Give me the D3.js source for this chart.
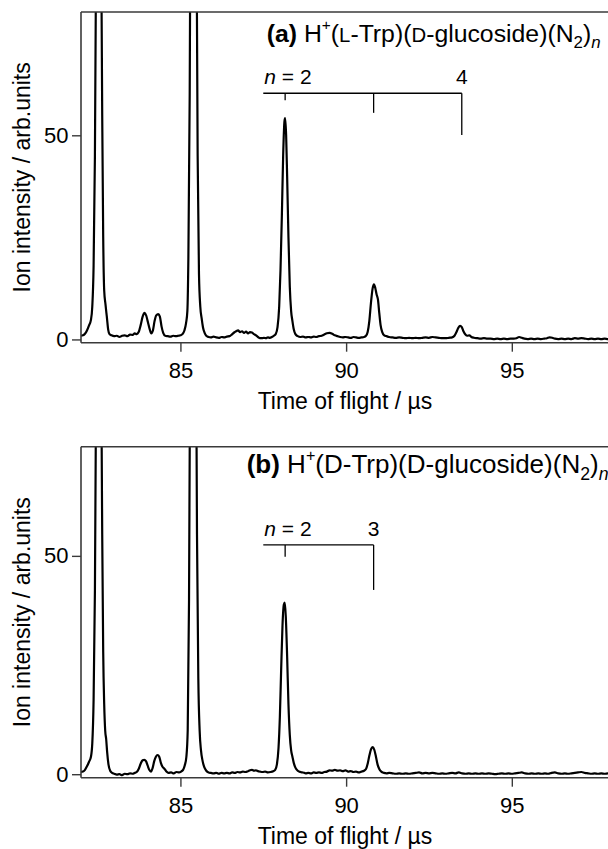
<!DOCTYPE html>
<html>
<head>
<meta charset="utf-8">
<script src="https://cdn.jsdelivr.net/npm/d3@7"></script>
<style>
  html, body { margin: 0; padding: 0; background: #fff; }
  svg { display: block; font-family: "Liberation Sans", Arial, Helvetica, sans-serif; }
</style>
</head>
<body>
<svg id="chart" width="608" height="849"></svg>
<script>
// Time-of-flight mass spectra, two panels.
const xTicks = [85, 90, 95];
const yTicks = [0, 50];

// Panel (a): [time of flight (µs), ion intensity (arb. units)]
const traceA = [
  [82.00,0.9],[82.06,1.0],[82.12,1.4],[82.18,2.2],[82.24,3.4],[82.30,4.8],[82.34,8],[82.38,18],
  [82.42,45],[82.46,100],[82.50,170],[82.53,200],[82.56,175],[82.60,110],[82.64,55],[82.67,25],
  [82.70,12],[82.74,8.5],[82.78,5.5],[82.82,2.4],[82.86,1.3],[82.92,1.0],[83.00,0.8],[83.08,0.9],
  [83.16,0.6],[83.24,0.9],[83.32,1.0],[83.40,0.8],[83.48,1.2],[83.56,1.1],[83.62,1.5],[83.68,1.3],
  [83.74,1.8],[83.80,3.5],[83.86,5.6],[83.92,6.5],[83.97,5.8],[84.02,4.2],[84.07,2.6],[84.12,1.5],
  [84.17,2.2],[84.22,4.5],[84.27,5.9],[84.33,6.2],[84.38,5.6],[84.43,3.2],[84.48,1.6],[84.54,0.9],
  [84.62,0.8],[84.70,0.7],[84.78,0.9],[84.86,0.8],[84.94,0.9],[85.00,1.0],[85.06,1.3],[85.12,2.2],
  [85.17,4.0],[85.21,7],[85.24,20],[85.28,60],[85.32,140],[85.36,200],[85.40,215],[85.44,190],
  [85.48,110],[85.52,45],[85.56,16],[85.60,8],[85.64,5.2],[85.68,3.0],[85.73,1.6],[85.78,0.9],
  [85.85,0.6],[85.92,0.5],[86.00,0.7],[86.08,0.5],[86.16,0.4],[86.24,0.6],[86.32,0.5],[86.40,0.7],
  [86.48,0.8],[86.55,1.2],[86.62,1.7],[86.68,2.0],[86.74,2.2],[86.80,1.8],[86.86,2.0],[86.92,1.6],
  [86.98,1.9],[87.04,1.5],[87.10,1.8],[87.16,1.7],[87.22,1.3],[87.28,1.0],[87.34,0.6],[87.40,0.3],
  [87.46,0.3],[87.52,0.4],[87.58,0.3],[87.64,0.5],[87.70,0.4],[87.76,0.6],[87.82,0.9],[87.88,1.4],
  [87.93,3],[87.98,8],[88.02,17],[88.06,30],[88.10,45],[88.14,53.5],[88.16,54.2],[88.19,50],
  [88.22,40],[88.26,25],[88.30,13],[88.34,7],[88.38,4.5],[88.42,2.5],[88.47,1.3],[88.54,0.8],
  [88.62,0.6],[88.70,0.7],[88.78,0.5],[88.86,0.6],[88.94,0.5],[89.02,0.7],[89.10,0.6],[89.18,0.8],
  [89.26,0.9],[89.34,1.2],[89.42,1.5],[89.50,1.6],[89.58,1.4],[89.66,1.0],[89.74,0.8],[89.82,0.6],
  [89.90,0.5],[89.98,0.6],[90.06,0.5],[90.14,0.4],[90.22,0.6],[90.30,0.5],[90.38,0.4],[90.46,0.5],
  [90.54,0.6],[90.60,0.9],[90.65,1.8],[90.70,4.5],[90.75,9],[90.80,12.5],[90.84,13.5],[90.88,12.6],
  [90.92,11],[90.96,9.8],[91.00,6.5],[91.04,3.5],[91.09,1.8],[91.15,1.0],[91.22,0.8],[91.30,0.6],
  [91.40,0.5],[91.50,0.4],[91.60,0.5],[91.70,0.4],[91.80,0.3],[91.90,0.4],[92.00,0.3],[92.10,0.4],
  [92.20,0.3],[92.30,0.4],[92.40,0.5],[92.50,0.4],[92.60,0.6],[92.70,0.5],[92.80,0.4],[92.90,0.3],
  [93.00,0.3],[93.10,0.4],[93.20,0.5],[93.27,0.9],[93.33,1.8],[93.39,2.9],[93.44,3.3],[93.49,3.0],
  [93.54,2.0],[93.60,1.2],[93.66,0.9],[93.72,1.0],[93.78,0.6],[93.86,0.4],[93.96,0.3],[94.06,0.2],
  [94.16,0.3],[94.26,0.2],[94.36,0.2],[94.46,0.1],[94.56,0.2],[94.66,0.1],[94.76,0.2],[94.86,0.1],
  [94.96,0.2],[95.06,0.2],[95.14,0.3],[95.22,0.6],[95.30,0.4],[95.38,0.2],[95.48,0.1],[95.58,0.2],
  [95.68,0.1],[95.78,0.2],[95.88,0.1],[95.98,0.2],[96.06,0.3],[96.14,0.5],[96.22,0.4],[96.30,0.2],
  [96.40,0.1],[96.50,0.2],[96.60,0.1],[96.70,0.2],[96.80,0.1],[96.90,0.3],[97.00,0.2],[97.10,0.3],
  [97.20,0.2],[97.30,0.1],[97.40,0.2],[97.50,0.1],[97.60,0.2],[97.70,0.1],[97.80,0.2],[97.90,0.1],
  [98.00,0.2]
];

// Panel (b)
const traceB = [
  [82.00,0.5],[82.06,0.6],[82.12,1.0],[82.18,1.8],[82.24,2.8],[82.30,4.0],[82.34,7],[82.38,17],
  [82.42,42],[82.46,95],[82.50,160],[82.53,190],[82.56,165],[82.60,105],[82.64,55],[82.67,28],
  [82.70,16],[82.73,10],[82.76,8],[82.79,5],[82.83,2.2],[82.88,0.8],[82.94,0.3],[83.00,0.1],
  [83.08,-0.1],[83.16,0.0],[83.24,-0.2],[83.32,0.1],[83.40,0.0],[83.48,0.2],[83.56,0.1],[83.62,0.3],
  [83.68,0.5],[83.74,1.2],[83.80,2.4],[83.86,3.2],[83.91,3.3],[83.96,3.0],[84.01,2.0],[84.06,1.0],
  [84.11,0.6],[84.16,1.4],[84.21,3.0],[84.26,4.0],[84.31,4.4],[84.36,4.0],[84.41,2.6],[84.46,1.7],
  [84.51,1.3],[84.57,0.7],[84.64,0.3],[84.72,0.4],[84.80,0.2],[84.88,0.5],[84.96,0.4],[85.02,0.6],
  [85.08,1.0],[85.13,2.0],[85.18,4.0],[85.22,10],[85.26,40],[85.30,110],[85.34,185],[85.38,210],
  [85.42,195],[85.46,120],[85.50,55],[85.54,22],[85.58,10],[85.62,5.5],[85.67,3.0],[85.72,1.6],
  [85.78,0.8],[85.85,0.4],[85.92,0.3],[86.00,0.2],[86.08,0.3],[86.16,0.1],[86.24,0.3],[86.32,0.2],
  [86.40,0.3],[86.48,0.2],[86.56,0.4],[86.64,0.3],[86.72,0.5],[86.80,0.4],[86.88,0.6],[86.96,0.5],
  [87.04,0.7],[87.10,0.9],[87.16,1.0],[87.22,0.8],[87.28,0.9],[87.34,0.7],[87.40,0.6],[87.48,0.5],
  [87.56,0.6],[87.64,0.4],[87.72,0.5],[87.80,0.7],[87.86,1.0],[87.91,2.2],[87.96,6],[88.00,13],
  [88.04,24],[88.08,34],[88.12,38.8],[88.15,39.3],[88.18,36],[88.22,27],[88.26,16],[88.30,9],
  [88.34,5.5],[88.38,4.0],[88.42,2.6],[88.47,1.5],[88.54,0.8],[88.62,0.5],[88.70,0.4],[88.78,0.2],
  [88.86,0.3],[88.94,0.2],[89.02,0.4],[89.10,0.3],[89.18,0.4],[89.26,0.3],[89.34,0.5],[89.42,0.6],
  [89.50,0.9],[89.58,0.8],[89.66,1.0],[89.74,0.8],[89.82,0.9],[89.90,0.7],[89.98,0.9],[90.06,0.6],
  [90.14,0.7],[90.22,0.5],[90.30,0.6],[90.38,0.4],[90.46,0.6],[90.54,0.8],[90.60,1.2],[90.65,2.4],
  [90.70,4.2],[90.75,5.7],[90.80,6.2],[90.85,5.6],[90.90,4.0],[90.95,2.2],[91.00,1.2],[91.06,0.6],
  [91.14,0.3],[91.22,0.2],[91.30,0.3],[91.40,0.2],[91.50,0.1],[91.60,0.2],[91.70,0.1],[91.80,0.2],
  [91.90,0.1],[92.00,0.2],[92.10,0.3],[92.20,0.4],[92.30,0.2],[92.40,0.3],[92.50,0.2],[92.60,0.3],
  [92.70,0.2],[92.80,0.1],[92.90,0.2],[93.00,0.1],[93.10,0.2],[93.20,0.3],[93.30,0.2],[93.40,0.4],
  [93.50,0.2],[93.60,0.1],[93.70,0.2],[93.80,0.1],[93.90,0.2],[94.00,0.1],[94.10,0.2],[94.20,0.1],
  [94.30,0.2],[94.40,0.1],[94.50,0.0],[94.60,0.1],[94.70,0.2],[94.80,0.1],[94.90,0.2],[95.00,0.1],
  [95.10,0.2],[95.20,0.3],[95.30,0.4],[95.40,0.2],[95.50,0.1],[95.60,0.2],[95.70,0.1],[95.80,0.2],
  [95.90,0.1],[96.00,0.2],[96.10,0.1],[96.20,0.3],[96.30,0.4],[96.40,0.2],[96.50,0.1],[96.60,0.2],
  [96.70,0.1],[96.80,0.2],[96.90,0.3],[97.00,0.4],[97.10,0.5],[97.20,0.3],[97.30,0.2],[97.40,0.1],
  [97.50,0.2],[97.60,0.1],[97.70,0.2],[97.80,0.1],[97.90,0.2],[98.00,0.1]
];

// Cluster-size series markers: peak times, label text, and lower end of each marker
const markTimesA  = [88.16, 90.83, 93.49];
const markEndsA   = [58.6, 55.5, 50.1];
const markLabelsA = ["2", "", "4"];
const markBarA    = 60.3;
const markTimesB  = [88.16, 90.83];
const markEndsB   = [49.8, 42.2];
const markLabelsB = ["2", "3"];
const markBarB    = 52.5;
const markStart   = 87.5;

const xDomain  = [82, 98];
const yDomainA = [-0.8, 80.2];
const yDomainB = [-0.8, 75.0];

const svg = d3.select("#chart");
const W = 608;
const left = 81;
const pxPerUs = 33.14;

const panels = [
  { id: "a", trace: traceA, yDomain: yDomainA, top: 12, bottom: 342.7,
    marks: markTimesA, ends: markEndsA, labels: markLabelsA, bar: markBarA,
    title: { x: 266.7, y: 41.7, size: 24.8, letter: "a", first: "L", smallCaps: true } },
  { id: "b", trace: traceB, yDomain: yDomainB, top: 446.7, bottom: 777.7,
    marks: markTimesB, ends: markEndsB, labels: markLabelsB, bar: markBarB,
    title: { x: 246.7, y: 473.3, size: 26, letter: "b", first: "D", smallCaps: false } }
];

const x = d3.scaleLinear().domain(xDomain).range([left, left + (xDomain[1] - xDomain[0]) * pxPerUs]);

panels.forEach(p => {
  const y = d3.scaleLinear().domain(p.yDomain).range([p.bottom, p.top]);
  const g = svg.append("g");

  // clip region for the spectrum
  g.append("clipPath").attr("id", "clip-" + p.id)
    .append("rect").attr("x", left).attr("y", p.top).attr("width", W - left).attr("height", p.bottom - p.top);

  // spectrum trace
  const line = d3.line().x(d => x(d[0])).y(d => y(d[1])).curve(d3.curveMonotoneX);
  g.append("path").datum(p.trace)
    .attr("clip-path", `url(#clip-${p.id})`)
    .attr("fill", "none").attr("stroke", "#000").attr("stroke-width", 2.2)
    .attr("stroke-linejoin", "round")
    .attr("d", line);

  // frame: top, left and bottom lines
  const frame = "#3a3a3a";
  g.append("line").attr("x1", left).attr("x2", W).attr("y1", p.top).attr("y2", p.top)
    .attr("stroke", frame).attr("stroke-width", 1.6);
  g.append("line").attr("x1", left).attr("x2", left).attr("y1", p.top).attr("y2", p.bottom)
    .attr("stroke", frame).attr("stroke-width", 1.6);
  g.append("line").attr("x1", left).attr("x2", W).attr("y1", p.bottom).attr("y2", p.bottom)
    .attr("stroke", frame).attr("stroke-width", 1.6);

  // axes
  const xa = g.append("g").attr("transform", `translate(0,${p.bottom})`)
    .call(d3.axisBottom(x).tickValues(xTicks).tickSize(9).tickSizeOuter(0).tickPadding(11));
  const ya = g.append("g").attr("transform", `translate(${left},0)`)
    .call(d3.axisLeft(y).tickValues(yTicks).tickSize(9).tickSizeOuter(0).tickPadding(3.5));
  [xa, ya].forEach(a => {
    a.select(".domain").remove();
    a.selectAll(".tick line").attr("stroke", frame).attr("stroke-width", 1.4);
    a.selectAll(".tick text").attr("fill", "#000").style("font-size", "22px")
      .style("font-family", '"Liberation Sans", Arial, sans-serif');
  });

  // axis titles
  g.append("text").attr("x", 345).attr("y", p.bottom + 66)
    .attr("text-anchor", "middle").style("font-size", "23px")
    .text("Time of flight / \u00b5s");
  g.append("text")
    .attr("transform", `translate(30,${(p.top + p.bottom) / 2}) rotate(-90)`)
    .attr("text-anchor", "middle").style("font-size", "23px")
    .text("Ion intensity / arb.units");

  // series marker bracket
  const ann = g.append("g").attr("stroke", "#000").attr("stroke-width", 1.3);
  const lastT = p.marks[p.marks.length - 1];
  ann.append("line").attr("x1", x(markStart)).attr("x2", x(lastT))
    .attr("y1", y(p.bar)).attr("y2", y(p.bar));
  p.marks.forEach((t, i) => {
    ann.append("line").attr("x1", x(t)).attr("x2", x(t))
      .attr("y1", y(p.bar)).attr("y2", y(p.ends[i]));
  });
  p.marks.forEach((t, i) => {
    const lab = p.labels[i];
    if (!lab) return;
    if (i === 0) {
      const tx = g.append("text").attr("x", x(markStart) + 1).attr("y", y(p.bar) - 9)
        .style("font-size", "21px");
      tx.append("tspan").style("font-style", "italic").text("n");
      tx.append("tspan").text(" = " + lab);
    } else {
      g.append("text").attr("x", x(t)).attr("y", y(p.bar) - 9)
        .attr("text-anchor", "middle").style("font-size", "21px").text(lab);
    }
  });

  // panel title
  const T = p.title;
  const tt = g.append("text").attr("x", T.x).attr("y", T.y).style("font-size", T.size + "px");
  const small = T.size * 0.82 + "px";
  tt.append("tspan").style("font-weight", "bold").text(`(${T.letter})`);
  tt.append("tspan").text(" H");
  tt.append("tspan").attr("dy", -T.size * 0.48).style("font-size", T.size * 0.62 + "px").text("+");
  tt.append("tspan").attr("dy", T.size * 0.48).text("(");
  tt.append("tspan").style("font-size", T.smallCaps ? small : null).text(T.first);
  tt.append("tspan").text("-Trp)(");
  tt.append("tspan").style("font-size", T.smallCaps ? small : null).text("D");
  tt.append("tspan").text("-glucoside)(N");
  tt.append("tspan").attr("dy", T.size * 0.26).style("font-size", T.size * 0.68 + "px").text("2");
  tt.append("tspan").attr("dy", -T.size * 0.26).text(")");
  tt.append("tspan").attr("dy", T.size * 0.26).style("font-size", T.size * 0.68 + "px")
    .style("font-style", "italic").text("n");
});
</script>
</body>
</html>
